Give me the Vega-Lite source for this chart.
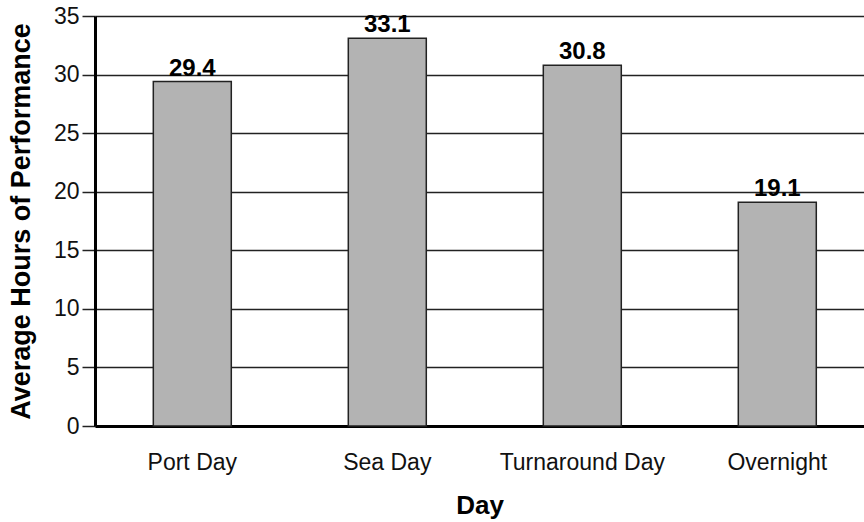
{
  "$schema": "https://vega.github.io/schema/vega-lite/v6.json",
  "width": 769,
  "height": 410,
  "autosize": {"type": "none"},
  "padding": {"left": 95, "top": 16, "right": 0, "bottom": 96},
  "background": "white",
  "config": {
    "view": {"stroke": null},
    "font": "Liberation Sans"
  },
  "data": {
    "values": [
      {"day": "Port Day", "hours": 29.4},
      {"day": "Sea Day", "hours": 33.1},
      {"day": "Turnaround Day", "hours": 30.8},
      {"day": "Overnight", "hours": 19.1}
    ]
  },
  "encoding": {
    "x": {
      "field": "day",
      "type": "nominal",
      "sort": null,
      "scale": {"paddingInner": 0.6, "paddingOuter": 0.2718, "align": 0.55},
      "axis": {
        "title": "Day",
        "titleFont": "Liberation Sans",
        "titleFontSize": 26,
        "titleFontWeight": "bold",
        "titleColor": "black",
        "titlePadding": 18,
        "labelAngle": 0,
        "labelFontSize": 23,
        "labelColor": "#111",
        "labelPadding": 25,
        "ticks": false,
        "domainColor": "black",
        "domainWidth": 3
      }
    },
    "y": {
      "field": "hours",
      "type": "quantitative",
      "scale": {"domain": [0, 35], "nice": false},
      "axis": {
        "title": "Average Hours of Performance",
        "titleFontSize": 27,
        "titleFontWeight": "bold",
        "titleColor": "black",
        "titlePadding": 18,
        "values": [0, 5, 10, 15, 20, 25, 30, 35],
        "labelFontSize": 23,
        "labelColor": "#111",
        "labelPadding": 3,
        "tickSize": 13,
        "tickColor": "#222",
        "tickWidth": 1.5,
        "grid": true,
        "gridColor": "#222",
        "gridWidth": 1.5,
        "domainColor": "black",
        "domainWidth": 3
      }
    }
  },
  "layer": [
    {
      "mark": {"type": "bar", "fill": "#b3b3b3", "stroke": "#222", "strokeWidth": 1.5}
    },
    {
      "mark": {"type": "text", "baseline": "bottom", "dy": -1, "fontSize": 24, "fontWeight": "bold", "color": "black"},
      "encoding": {"text": {"field": "hours", "type": "quantitative", "format": ".1f"}}
    }
  ]
}
